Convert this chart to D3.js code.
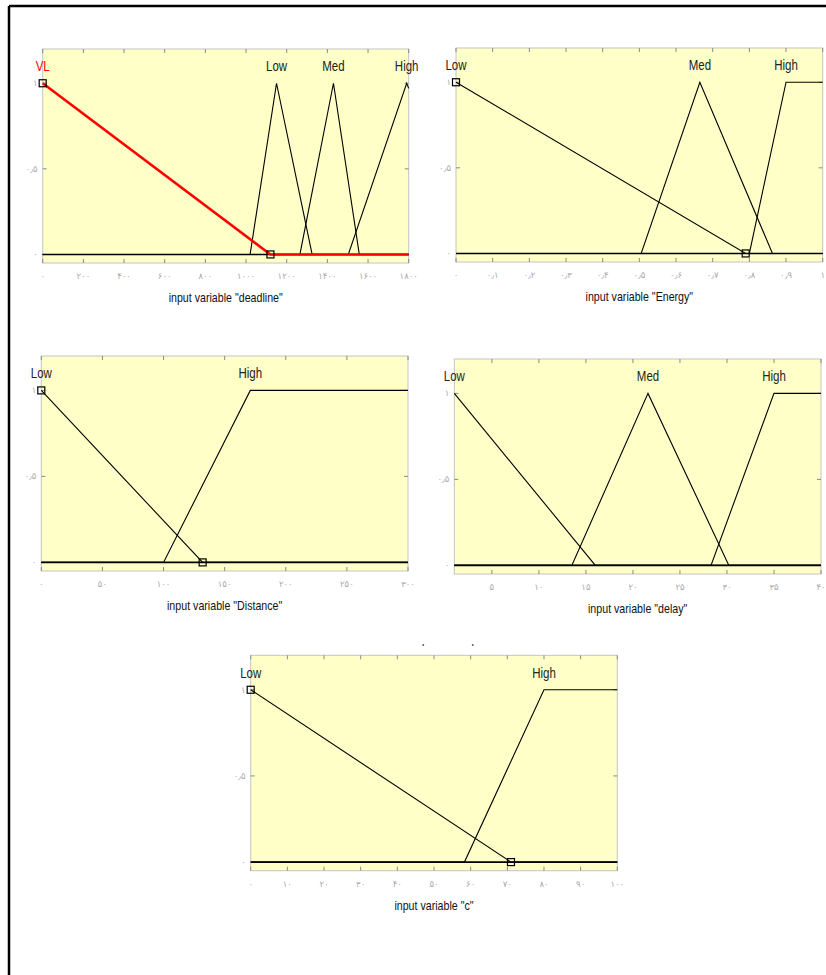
<!DOCTYPE html>
<html>
<head>
<meta charset="utf-8">
<script src="https://cdn.jsdelivr.net/npm/d3@7"></script>
<style>
  body { margin: 0; background: #fff; }
  text { font-family: "Liberation Sans", Arial, sans-serif; }
  .fa { font-family: "DejaVu Sans", sans-serif; }
</style>
</head>
<body>
<svg id="chart" width="826" height="975"></svg>
<script>
// membership functions, one block per input variable
const yTicks = [0, 0.5, 1]
const yTickLabels = ["۰", "۰٫۵", "۱"]

const deadlineTicks = [0, 200, 400, 600, 800, 1000, 1200, 1400, 1600, 1800]
const deadlineTickLabels = ["۰", "۲۰۰", "۴۰۰", "۶۰۰", "۸۰۰", "۱۰۰۰", "۱۲۰۰", "۱۴۰۰", "۱۶۰۰", "۱۸۰۰"]
const deadlineNames = ["VL", "Low", "Med", "High"]
const deadlineMFs = [
    [[0, 1], [1120, 0], [1800, 0]],
    [[0, 0], [1020, 0], [1150, 1], [1325, 0], [1800, 0]],
    [[0, 0], [1265, 0], [1430, 1], [1557, 0], [1800, 0]],
    [[0, 0], [1503, 0], [1790, 1], [1800, 0.97]]
]

const energyTicks = [0, 0.1, 0.2, 0.3, 0.4, 0.5, 0.6, 0.7, 0.8, 0.9, 1]
const energyTickLabels = ["۰", "۰٫۱", "۰٫۲", "۰٫۳", "۰٫۴", "۰٫۵", "۰٫۶", "۰٫۷", "۰٫۸", "۰٫۹", "۱"]
const energyNames = ["Low", "Med", "High"]
const energyMFs = [
    [[0, 1], [0.79, 0], [1, 0]],
    [[0, 0], [0.505, 0], [0.665, 1], [0.863, 0], [1, 0]],
    [[0, 0], [0.8, 0], [0.9, 1], [1, 1]]
]

const distanceTicks = [0, 50, 100, 150, 200, 250, 300]
const distanceTickLabels = ["۰", "۵۰", "۱۰۰", "۱۵۰", "۲۰۰", "۲۵۰", "۳۰۰"]
const distanceNames = ["Low", "High"]
const distanceMFs = [
    [[0, 1], [132, 0], [300, 0]],
    [[0, 0], [100, 0], [171, 1], [300, 1]]
]

const delayTicks = [5, 10, 15, 20, 25, 30, 35, 40]
const delayTickLabels = ["۵", "۱۰", "۱۵", "۲۰", "۲۵", "۳۰", "۳۵", "۴۰"]
const delayNames = ["Low", "Med", "High"]
const delayMFs = [
    [[1, 1], [16, 0], [40, 0]],
    [[1, 0], [13.5, 0], [21.6, 1], [30.2, 0], [40, 0]],
    [[1, 0], [28.3, 0], [35, 1], [40, 1]]
]

const cTicks = [0, 10, 20, 30, 40, 50, 60, 70, 80, 90, 100]
const cTickLabels = ["۰", "۱۰", "۲۰", "۳۰", "۴۰", "۵۰", "۶۰", "۷۰", "۸۰", "۹۰", "۱۰۰"]
const cNames = ["Low", "High"]
const cMFs = [
    [[0, 1], [71, 0], [100, 0]],
    [[0, 0], [58.3, 0], [80, 1], [100, 1]]
]

// layout of the five axes boxes (pixels)
const panels = [
    { title: 'input variable "deadline"', domain: [0, 1800], ticks: deadlineTicks, labels: deadlineTickLabels,
      names: deadlineNames, mfs: deadlineMFs, red: 0, selected: 0, box: [42.7, 49, 408.7, 263] },
    { title: 'input variable "Energy"', domain: [0, 1], ticks: energyTicks, labels: energyTickLabels,
      names: energyNames, mfs: energyMFs, red: -1, selected: 0, box: [456, 48, 822.7, 262] },
    { title: 'input variable "Distance"', domain: [0, 300], ticks: distanceTicks, labels: distanceTickLabels,
      names: distanceNames, mfs: distanceMFs, red: -1, selected: 0, box: [41.3, 356, 408, 571] },
    { title: 'input variable "delay"', domain: [1, 40], ticks: delayTicks, labels: delayTickLabels,
      names: delayNames, mfs: delayMFs, red: -1, selected: -1, box: [454.3, 359, 821, 574] },
    { title: 'input variable "c"', domain: [0, 100], ticks: cTicks, labels: cTickLabels,
      names: cNames, mfs: cMFs, red: -1, selected: 0, box: [250.7, 655.3, 617.3, 870.7] }
]

const svg = d3.select("#chart")

// matlab uses a narrow font, squeeze Arial metrics horizontally
function narrowText(g, x, y, str, size, color) {
    return g.append("text")
        .attr("transform", "translate(" + x + "," + y + ") scale(0.82,1)")
        .attr("text-anchor", "middle")
        .attr("font-size", size)
        .attr("fill", color)
        .text(str)
}

// outer frame (only top and left edges show)
svg.append("line").attr("x1", 9).attr("y1", 6).attr("x2", 826).attr("y2", 6)
    .attr("stroke", "#000").attr("stroke-width", 2.5)
svg.append("line").attr("x1", 9).attr("y1", 6).attr("x2", 9).attr("y2", 975)
    .attr("stroke", "#000").attr("stroke-width", 2.5)

panels.forEach(function(p) {
    const [x0, y0, x1, y1] = p.box
    const x = d3.scaleLinear().domain(p.domain).range([x0, x1])
    const y = d3.scaleLinear().domain([-0.05, 1.2]).range([y1, y0])
    const g = svg.append("g")

    g.append("rect")
        .attr("x", x0).attr("y", y0)
        .attr("width", x1 - x0).attr("height", y1 - y0)
        .attr("fill", "#ffffc8")
        .attr("stroke", "#c4c4c4")
        .attr("stroke-width", 1)

    // inward ticks on all four sides
    const tk = 4
    g.selectAll(".xt-bottom").data(p.ticks).enter().append("line")
        .attr("x1", d => x(d)).attr("x2", d => x(d))
        .attr("y1", y1).attr("y2", y1 - tk)
        .attr("stroke", "#8a8a8a")
    g.selectAll(".xt-top").data(p.ticks).enter().append("line")
        .attr("x1", d => x(d)).attr("x2", d => x(d))
        .attr("y1", y0).attr("y2", y0 + tk)
        .attr("stroke", "#8a8a8a")
    g.selectAll(".yt-left").data(yTicks).enter().append("line")
        .attr("x1", x0).attr("x2", x0 + tk)
        .attr("y1", d => y(d)).attr("y2", d => y(d))
        .attr("stroke", "#8a8a8a")
    g.selectAll(".yt-right").data(yTicks).enter().append("line")
        .attr("x1", x1).attr("x2", x1 - tk)
        .attr("y1", d => y(d)).attr("y2", d => y(d))
        .attr("stroke", "#8a8a8a")

    g.selectAll(".xl").data(p.ticks).enter().append("text")
        .attr("class", "fa")
        .attr("x", d => x(d))
        .attr("y", y1 + 16)
        .attr("text-anchor", "middle")
        .attr("font-size", 8.5)
        .attr("fill", "#aaaaaa")
        .text((d, i) => p.labels[i])
    g.selectAll(".yl").data(yTicks).enter().append("text")
        .attr("class", "fa")
        .attr("x", x0 - 5)
        .attr("y", d => y(d) + 3)
        .attr("text-anchor", "end")
        .attr("font-size", 8.5)
        .attr("fill", "#aaaaaa")
        .text((d, i) => yTickLabels[i])

    narrowText(g, (x0 + x1) / 2, y1 + 39, p.title, 13, "#111")

    // membership functions
    const line = d3.line().x(d => x(d[0])).y(d => y(d[1]))
    g.append("line")
        .attr("x1", x0).attr("x2", x1)
        .attr("y1", y(0)).attr("y2", y(0))
        .attr("stroke", "#000").attr("stroke-width", 1.6)
    p.mfs.forEach(function(pts, i) {
        if (i === p.red) return
        g.append("path").attr("d", line(pts))
            .attr("fill", "none").attr("stroke", "#000").attr("stroke-width", 1.1)
    })
    if (p.red >= 0) {
        g.append("path").attr("d", line(p.mfs[p.red]))
            .attr("fill", "none").attr("stroke", "#f00").attr("stroke-width", 2.6)
    }

    // names above the first point where each function peaks
    p.names.forEach(function(name, i) {
        const pts = p.mfs[i]
        const peak = pts.find(d => d[1] === d3.max(pts, e => e[1]))
        narrowText(g, x(peak[0]), y(1.1) + 5, name, 14, i === p.red ? "#f00" : "#222")
    })

    // vertex squares of the selected function
    if (p.selected >= 0) {
        const sel = p.mfs[p.selected].slice(0, 2)
        g.selectAll(".sq").data(sel).enter().append("rect")
            .attr("x", d => x(d[0]) - 3.5)
            .attr("y", d => y(d[1]) - 3.5)
            .attr("width", 7).attr("height", 7)
            .attr("fill", "none")
            .attr("stroke", "#000")
            .attr("stroke-width", 1.2)
    }
})

// two stray dots above the last plot
svg.selectAll(".dot").data([423.3, 472.7]).enter().append("circle")
    .attr("cx", d => d).attr("cy", 645).attr("r", 0.9).attr("fill", "#555")
</script>
</body>
</html>
